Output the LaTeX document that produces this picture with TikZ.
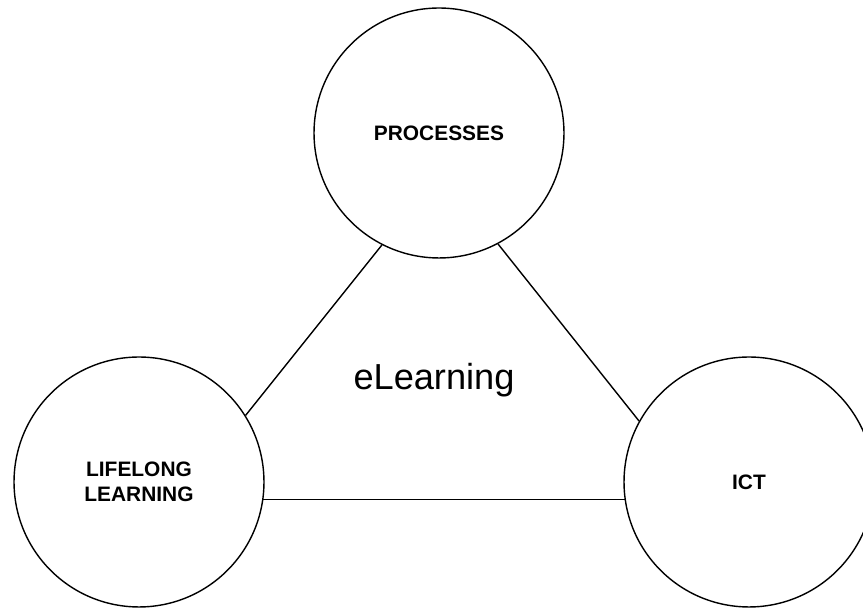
\documentclass[tikz,border=0pt]{standalone}
\usepackage{fontspec}
\setmainfont{Liberation Sans}

\begin{document}
\begin{tikzpicture}[x=0.02cm, y=0.02cm, line width=0.8pt,
  cercle/.style={circle, draw, minimum size=5cm, inner sep=0pt, align=center,
    font=\fontsize{11.9}{14.2}\selectfont\bfseries}]
  \useasboundingbox (0,0) rectangle (863,608);

  % Cercle du haut : processus
  \node[cercle] (P) at (439,475) {PROCESSES};

  % Cercle de gauche : apprentissage tout au long de la vie
  \node[cercle] (L) at (139,126) {LIFELONG\\LEARNING};

  % Cercle de droite : TIC
  \node[cercle] (I) at (749,126) {ICT};

  % Liens entre les cercles
  \draw (P.-117.8) -- (L.32.7);
  \draw (P.-62.2) -- (I.151);
  \draw (L.-8.7) -- (I.188.7);

  % Texte au centre du triangle
  \node[anchor=base, font=\fontsize{20.6}{24}\selectfont] (E) at (434,218) {eLearning};
\end{tikzpicture}
\end{document}
